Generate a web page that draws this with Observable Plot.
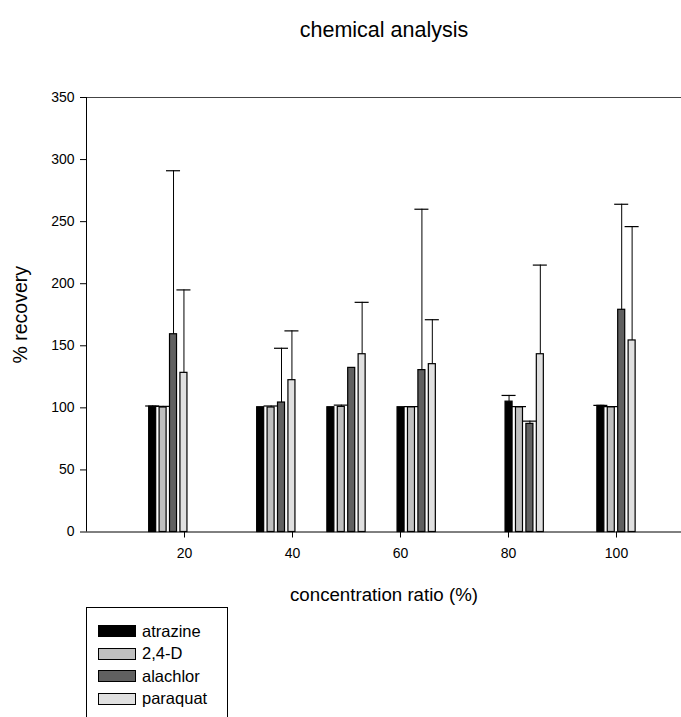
<!DOCTYPE html>
<html>
<head>
<meta charset="utf-8">
<script src="https://cdn.jsdelivr.net/npm/d3@7"></script>
<script src="https://cdn.jsdelivr.net/npm/@observablehq/plot@0.6"></script>
<style>
  html, body { margin: 0; padding: 0; background: #fff; }
  body { width: 681px; height: 717px; overflow: hidden; font-family: "Liberation Sans", Arial, sans-serif; }
  #wrap { position: relative; width: 681px; height: 717px; }
  #title { height: 60px; position: relative; }
  #title span { position: absolute; left: 184px; width: 400px; top: 18px; text-align: center; font-size: 21.5px; color: #000; }
  #chart svg { display: block; }
  #legend { margin-left: 86px; margin-top: 2px; width: 142px; height: 130px; box-sizing: border-box;
            border: 1px solid #000; padding-top: 12px; }
  .row { height: 22.5px; display: flex; align-items: center; padding-left: 11px; font-size: 16.5px; color: #000; }
  .sw { width: 38px; height: 12px; box-sizing: border-box; border: 1px solid #000; margin-right: 6px; }
</style>
</head>
<body>
<div id="wrap">
  <div id="title"><span>chemical analysis</span></div>
  <div id="chart"></div>
  <div id="legend"></div>
</div>
<script>
// ---- data ----
const series = ["atrazine", "2,4-D", "alachlor", "paraquat"];
const colors = ["#000000", "#c0c0c0", "#606060", "#e0e0e0"];
const positions = [17, 37, 50, 63, 83, 100];
const xTicks = [20, 40, 60, 80, 100];
const yTicks = [0, 50, 100, 150, 200, 250, 300, 350];

const atrazine      = [101.0, 100.5, 100.5, 100.5, 105.0, 101.6];
const atrazineUpper = [101.5, null, null, null, 110.0, 102.0];
const d24           = [100.3, 100.3, 100.8, 100.5, 100.5, 100.5];
const d24Upper      = [101.2, 101.5, 102.2, 101.0, 101.0, 101.0];
const alachlor      = [159.3, 104.3, 132.2, 130.4, 87.1, 179.0];
const alachlorUpper = [291.0, 148.0, null, 260.0, 89.3, 264.0];
const paraquat      = [128.2, 122.3, 143.2, 135.2, 143.2, 154.3];
const paraquatUpper = [195.0, 162.0, 185.0, 171.0, 215.0, 246.0];

const means = [atrazine, d24, alachlor, paraquat];
const uppers = [atrazineUpper, d24Upper, alachlorUpper, paraquatUpper];

// ---- build table ----
const step = 1.93, barW = 1.3, capHalf = 1.3;
const rows = [];
series.forEach((s, i) => {
  positions.forEach((p, j) => {
    const c = p + (i - 1.5) * step;
    rows.push({series: s, c, x1: c - barW / 2, x2: c + barW / 2, value: means[i][j], upper: uppers[i][j]});
  });
});
const errRows = rows.filter(d => d.upper != null);

const chart = Plot.plot({
  width: 681,
  height: 545,
  marginTop: 37,
  marginBottom: 73.5,
  marginLeft: 86,
  marginRight: 0,
  style: {fontFamily: "'Liberation Sans', Arial, sans-serif", fontSize: "14px", color: "#000", background: "#fff"},
  x: {type: "linear", domain: [1.85, 112.04], ticks: xTicks, tickSize: 6, tickPadding: 10, tickFormat: d => String(d), label: null},
  y: {domain: [0, 350], ticks: yTicks, tickSize: 6, tickPadding: 6, label: null},
  color: {domain: series, range: colors},
  marks: [
    Plot.ruleY([350], {stroke: "#444", strokeWidth: 1.2}),
    Plot.ruleY([0], {stroke: "#000"}),
    Plot.ruleX([1.85], {stroke: "#000"}),
    Plot.rect(rows, {x1: "x1", x2: "x2", y1: 0, y2: "value", fill: "series", stroke: "#000", strokeWidth: 1.2}),
    Plot.ruleX(errRows, {x: "c", y1: "value", y2: "upper", stroke: "#000", strokeWidth: 1}),
    Plot.ruleY(errRows, {y: "upper", x1: d => d.c - capHalf, x2: d => d.c + capHalf, stroke: "#000", strokeWidth: 1.2}),
    Plot.text(["concentration ratio (%)"], {text: d => d, frameAnchor: "bottom", dy: 63.5, fontSize: 18.7, lineAnchor: "middle", textAnchor: "middle"}),
    Plot.text(["% recovery"], {text: d => d, frameAnchor: "left", dx: -66, rotate: -90, fontSize: 19.5, lineAnchor: "middle", textAnchor: "middle"})
  ]
});
document.getElementById("chart").appendChild(chart);

// ---- legend ----
const legend = document.getElementById("legend");
series.forEach((s, i) => {
  const row = document.createElement("div");
  row.className = "row";
  const sw = document.createElement("div");
  sw.className = "sw";
  sw.style.background = colors[i];
  const t = document.createElement("span");
  t.textContent = s;
  row.appendChild(sw);
  row.appendChild(t);
  legend.appendChild(row);
});
</script>
</body>
</html>
